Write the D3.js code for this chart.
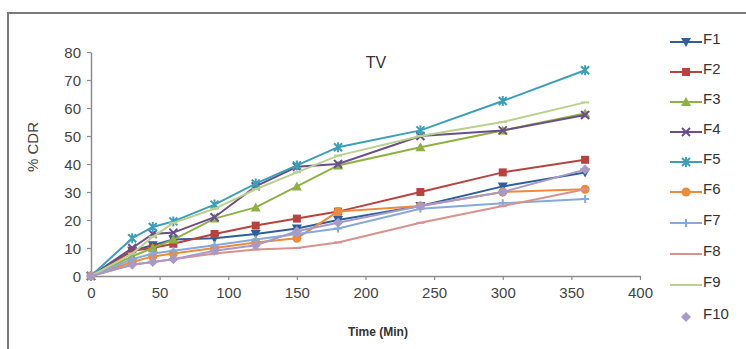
<!DOCTYPE html>
<html>
<head>
<meta charset="utf-8">
<script src="https://cdn.jsdelivr.net/npm/d3@7"></script>
<style>
  html, body { margin: 0; padding: 0; background: #fff; }
  svg { display: block; font-family: "Liberation Sans", Arial, sans-serif; }
</style>
</head>
<body>
<svg id="chart" width="746" height="349"></svg>
<script>
// Sampling times (min)
const times = [0, 30, 45, 60, 90, 120, 150, 180, 240, 300, 360];

// Cumulative drug release (%) per formulation
const F1  = [0, 9, 11, 13, 13.5, 15, 17, 20, 25, 32, 37];
const F2  = [0, 9, 10, 11.5, 15, 18, 20.5, 23, 30, 37, 41.5];
const F3  = [0, 7, 10, 13, 20.5, 24.5, 32, 39.5, 46, 52, 58];
const F4  = [0, 10, 15, 15.5, 21, 32, 39, 40, 50, 52, 57.5];
const F5  = [0, 13.5, 17.5, 19.5, 25.5, 33, 39.5, 46, 52, 62.5, 73.5];
const F6  = [0, 5, 7, 8, 10, 12, 13.5, 23, 25, 30, 31];
const F7  = [0, 6, 8, 9, 11, 13, 15, 17, 24, 26, 27.5];
const F8  = [0, 4, 5, 6, 8, 9.5, 10, 12, 19, 25, 31];
const F9  = [0, 8, 14, 19, 24, 31, 37, 43, 50, 55, 62];
const F10 = [0, 4, 5, 6, 9, 11, 16, 19, 25, 30, 38];

const seriesNames = ["F1", "F2", "F3", "F4", "F5", "F6", "F7", "F8", "F9", "F10"];
const seriesValues = [F1, F2, F3, F4, F5, F6, F7, F8, F9, F10];

const xTicks = [0, 50, 100, 150, 200, 250, 300, 350, 400];
const yTicks = [0, 10, 20, 30, 40, 50, 60, 70, 80];

const colors = ["#2c5f9b", "#b9413e", "#8fb143", "#6a4f8c", "#3c9fb9",
                "#ee8a3a", "#86a9dc", "#d9918e", "#b9d18c", "#a899c8"];
const shapes = ["triDown", "square", "triUp", "x", "star", "circle", "plus", "dash", "dash", "diamond"];

const svg = d3.select("#chart");

// Outer frame (top and left edges)
svg.append("path")
  .attr("d", "M8,349 L8,13 L746,13")
  .attr("fill", "none").attr("stroke", "#7a7a7a").attr("stroke-width", 2);

const x = d3.scaleLinear().domain([0, 400]).range([91, 640]);
const y = d3.scaleLinear().domain([0, 80]).range([276, 52]);

// Axes
const xAxis = svg.append("g").attr("transform", "translate(0,276)")
  .call(d3.axisBottom(x).tickValues(xTicks).tickSize(4).tickSizeOuter(0));
const yAxis = svg.append("g").attr("transform", "translate(91,0)")
  .call(d3.axisLeft(y).tickValues(yTicks).tickSize(4).tickSizeOuter(0));

[xAxis, yAxis].forEach(g => {
  g.select(".domain").attr("stroke", "#8c8c8c").attr("stroke-width", 1.5);
  g.selectAll(".tick line").attr("stroke", "#8c8c8c").attr("stroke-width", 1.2);
  g.selectAll(".tick text").attr("fill", "#444").attr("font-size", 15)
    .attr("font-family", "'Liberation Sans', Arial, sans-serif");
});
xAxis.selectAll(".tick text").attr("dy", "0.95em").attr("y", 8);
yAxis.selectAll(".tick text").attr("x", -10).attr("dy", "0.35em");

// Titles
svg.append("text").attr("x", 376).attr("y", 68).attr("text-anchor", "middle")
  .attr("font-size", 16).attr("fill", "#333").text("TV");
svg.append("text").attr("x", 378).attr("y", 336).attr("text-anchor", "middle")
  .attr("font-size", 12).attr("font-weight", "bold").attr("fill", "#333").text("Time (Min)");
svg.append("text").attr("transform", "translate(38,147) rotate(-90)")
  .attr("text-anchor", "middle").attr("font-size", 15).attr("fill", "#444").text("% CDR");

// Marker drawing helper
function drawMarker(g, shape, color, cx, cy, s) {
  const h = s / 2;
  switch (shape) {
    case "triDown":
      g.append("path").attr("d", `M${cx - h - 1},${cy - h} L${cx + h + 1},${cy - h} L${cx},${cy + h + 1}Z`).attr("fill", color);
      break;
    case "triUp":
      g.append("path").attr("d", `M${cx - h - 1},${cy + h} L${cx + h + 1},${cy + h} L${cx},${cy - h - 1}Z`).attr("fill", color);
      break;
    case "square":
      g.append("rect").attr("x", cx - h).attr("y", cy - h).attr("width", s).attr("height", s).attr("fill", color);
      break;
    case "circle":
      g.append("circle").attr("cx", cx).attr("cy", cy).attr("r", h + 0.5).attr("fill", color);
      break;
    case "diamond":
      g.append("path").attr("d", `M${cx},${cy - h - 1} L${cx + h + 1},${cy} L${cx},${cy + h + 1} L${cx - h - 1},${cy}Z`).attr("fill", color);
      break;
    case "x":
      g.append("path").attr("d", `M${cx - h},${cy - h} L${cx + h},${cy + h} M${cx - h},${cy + h} L${cx + h},${cy - h}`)
        .attr("stroke", color).attr("stroke-width", 2);
      break;
    case "star":
      g.append("path").attr("d", `M${cx - h},${cy - h} L${cx + h},${cy + h} M${cx - h},${cy + h} L${cx + h},${cy - h} M${cx},${cy - h - 1} L${cx},${cy + h + 1}`)
        .attr("stroke", color).attr("stroke-width", 2);
      break;
    case "plus":
      g.append("path").attr("d", `M${cx - h},${cy} L${cx + h},${cy} M${cx},${cy - h} L${cx},${cy + h}`)
        .attr("stroke", color).attr("stroke-width", 2);
      break;
    case "dash":
      g.append("path").attr("d", `M${cx - h},${cy} L${cx + h},${cy}`)
        .attr("stroke", color).attr("stroke-width", 2);
      break;
  }
}

const line = d3.line().x(d => x(d[0])).y(d => y(d[1]));

// Series lines with markers
seriesValues.forEach((vals, i) => {
  const pts = times.map((t, k) => [t, vals[k]]);
  const g = svg.append("g").attr("class", "series " + seriesNames[i]);
  g.append("path").datum(pts).attr("d", line)
    .attr("fill", "none").attr("stroke", colors[i]).attr("stroke-width", 2);
  pts.forEach(p => drawMarker(g, shapes[i], colors[i], x(p[0]), y(p[1]), 8));
});

// Legend
const legendY = [42, 72, 102, 132, 162, 192, 223, 254, 285, 317];
seriesNames.forEach((name, i) => {
  const g = svg.append("g");
  const ly = legendY[i];
  if (i !== 9) {
    g.append("line").attr("x1", 670).attr("x2", 702).attr("y1", ly).attr("y2", ly)
      .attr("stroke", colors[i]).attr("stroke-width", 2);
  }
  drawMarker(g, shapes[i], colors[i], 686, ly, 8);
  g.append("text").attr("x", 703).attr("y", ly).attr("dy", "0.1em")
    .attr("font-size", 15).attr("fill", "#333").text(name);
});
</script>
</body>
</html>
